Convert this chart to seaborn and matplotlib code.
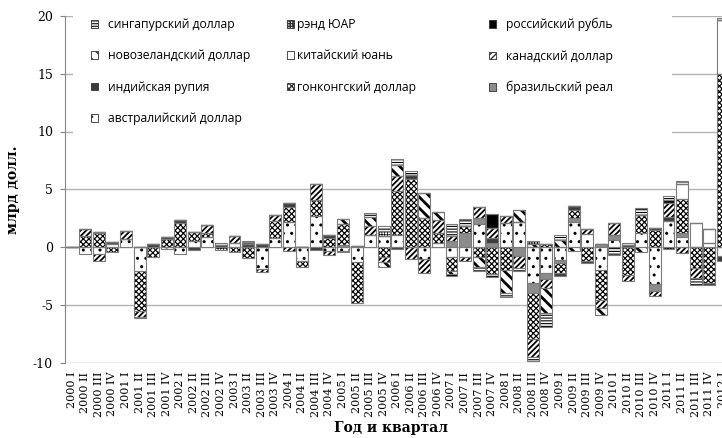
import numpy as np
import seaborn as sns
import matplotlib.pyplot as plt
import matplotlib.patches as mpatches

quarters = [f"{y} {q}" for y in range(2000, 2012) for q in ["I", "II", "III", "IV"]] + ["2012 I"]

# млрд долл., values (bottom-to-top stacking order)
aus = [0, -0.55, -0.55, 0.3, 0.7, -2.1, 0, -0.15, -0.55, 0.5,
       0.85, 0, 0.4, 0, -1.85, 0.83, 2.2, -1.2, 2.7, -0.3,
       -0.3, -1.25, 1.05, 1.0, 1.07, 0, -1.05, 0.4, -0.87, -0.85,
       2.0, 0, 2.13, 2.2, -3.1, -2.25, -1.1, 2.2, 1.15, -2.0,
       0.6, 0, 1.2, -3.2, 2.3, 0.9, 0, 0.35, -0.8]
brazil = [0, 0, 0, 0, 0, 0, 0, 0, 0, 0,
          0, 0, 0, 0, 0, 0, 0, 0, 0, 0,
          0.2, 0, 0, 0, 0, 0, 0, 0, 0.5, 1.2,
          0.5, 0.4, 0, -0.75, -0.87, -0.52, -0.3, 0.3, 0, 0.25,
          0.45, 0, 0, -0.55, 0, 0.3, 0, 0, 0]
hk = [0, 0.95, 1.2, -0.45, 0, -3.45, -0.85, 0.7, 2.1, 0.8,
      0.4, 0, -0.38, -0.95, 0, 1.45, 1.3, -0.55, 1.38, 0.8,
      1.8, -3.6, 0, -0.85, 3.75, 5.9, 2.5, 0.8, -1.15, 0.6,
      -0.87, -2.3, -1.96, 0, -4.0, 0.25, -0.8, 0.75, -1.2, -2.54,
      0, -2.4, 1.6, 1.45, 0, 2.95, -1.8, -3.1, 15.0]
india = [0, 0, 0.1, 0.12, 0, 0, 0.25, 0.15, 0.25, -0.25,
         0, 0.2, 0, 0.25, 0.25, 0, 0.3, 0.05, -0.2, 0.25,
         -0.15, 0.1, 0, 0, -0.17, 0.3, 0, 0, 0, 0,
         0, 0.4, 0, 0, 0, 0, -0.25, 0.3, -0.2, 0,
         0, 0.2, 0, 0.2, 0.35, 0, 0, -0.15, -0.35]
cad = [0, 0.6, -0.6, 0, 0.7, -0.45, 0, 0, 0, 0,
       0.65, 0, 0.57, 0, -0.3, 0.5, -0.33, 0, 1.38, -0.35,
       0, 0, 0.8, -0.4, 1.3, -1.05, -1.2, 1.15, 0.5, -0.3,
       1.0, 0.9, 0.58, -1.05, -1.5, -0.78, 0, 0, 0.4, -0.72,
       1.05, -0.5, 0, -0.43, 1.15, -0.52, -0.87, 0, 0]
china = [0, 0, 0, 0, 0, 0, 0, 0, 0, 0,
         0, 0, 0, 0, 0, 0, 0, 0, 0, 0,
         0, 0, 0, 0, 0, 0, 0, 0, 0, 0,
         0, 0, 0, 0, 0, 0, 0, 0, 0, 0,
         0, 0, 0, 0, 0, 1.3, 2.05, 1.22, 4.6]
nz = [0, 0, 0, 0, 0, 0, 0, 0, 0, 0,
      0, 0, 0, 0, 0, 0, 0, 0, 0, 0,
      0.4, 0, 0.8, -0.5, 1.0, 0, 2.16, 0.65, -0.3, 0,
      -0.8, 0, -2.0, 1.0, 0.3, -2.16, 0.6, -0.3, 0, -0.63,
      0, 0, -0.45, 0, 0, 0, 0, 0, 0]
ruble = [0, 0, 0, 0, 0, -0.15, 0, 0, 0, 0,
         0, 0, 0, 0, 0, 0, 0, 0, 0, 0,
         0, 0, 0, 0, 0, 0, 0, 0, -0.15, 0,
         0, 1.2, 0, 0, 0, 0, 0, 0, 0, 0,
         0, 0, 0, 0, 0.3, 0, 0, 0, 0]
rand = [0, 0, 0, 0, 0, 0, 0, 0, 0, 0,
        0, -0.25, 0, 0, 0, 0, 0, 0, 0, 0,
        0, 0, 0, 0.4, 0, 0, 0, 0, 0, 0,
        0, 0, 0, 0, 0.25, 0, 0, 0, 0, 0,
        0, 0, 0, 0, -0.15, 0, 0, 0, 0]
singapore = [0, 0, 0, 0, 0, 0, 0, 0, 0, 0,
             0, 0.2, 0, 0.3, 0, 0, 0, 0, 0, 0,
             0, 0, 0.3, 0.4, 0.5, 0.4, 0, 0, 1.0, 0.6,
             -0.43, -0.3, -0.37, -0.3, -0.37, -1.15, 0.45, 0, 0, 0,
             -0.7, 0.2, 0.55, 0, 0.35, 0.23, -0.58, 0, 0.2]

# name, values, face colour, hatch, hatch line width
series = [
    ("австралийский доллар", aus, "white", "..", 1.0),
    ("бразильский реал", brazil, "#8c8c8c", None, 1.0),
    ("гонконгский доллар", hk, "white", "xxxxxx", 0.85),
    ("индийская рупия", india, "#3c3c3c", None, 1.0),
    ("канадский доллар", cad, "white", "//////", 1.3),
    ("китайский юань", china, "white", None, 1.0),
    ("новозеландский доллар", nz, "white", "\\\\\\", 2.0),
    ("российский рубль", ruble, "black", None, 1.0),
    ("рэнд ЮАР", rand, "white", "++++++", 0.5),
    ("сингапурский доллар", singapore, "white", "------", 0.8),
]

plt.rcParams["font.family"] = ["DejaVu Serif"]
plt.rcParams["axes.unicode_minus"] = False

fig = plt.figure(figsize=(7.22, 4.38), dpi=100)
ax = fig.add_axes([65 / 722, 1 - 362.9 / 438, 664.5 / 722, 347.1 / 438])

pos = np.zeros(len(quarters))
neg = np.zeros(len(quarters))
for name, vals, col, hatch, hlw in series:
    v = np.asarray(vals, dtype=float)
    bottom = np.where(v >= 0, pos, neg)
    with plt.rc_context({"hatch.linewidth": hlw}):
        sns.barplot(x=quarters, y=v, bottom=bottom, ax=ax, color=col, hatch=hatch,
                    edgecolor="black", linewidth=0, width=0.88, saturation=1,
                    errorbar=None, zorder=2)
    sns.barplot(x=quarters, y=v, bottom=bottom, ax=ax, color="#7a7a7a", fill=False,
                linewidth=0.8, width=0.88, errorbar=None, zorder=3)
    pos += np.clip(v, 0, None)
    neg += np.clip(v, None, 0)

ax.set_xlim(-0.5, len(quarters) - 0.5)
ax.set_ylim(-10, 20)
ax.set_yticks([-10, -5, 0, 5, 10, 15, 20])
ax.grid(axis="y", color="#b3b3b3", linewidth=1)
ax.grid(axis="x", visible=False)
ax.set_axisbelow(True)
for s in ["top", "right", "bottom"]:
    ax.spines[s].set_visible(False)
ax.spines["left"].set_color("#868686")
ax.tick_params(axis="y", direction="out", length=3.6, color="#868686", pad=5, labelsize=9)
ax.tick_params(axis="x", length=0, pad=6.5, labelsize=8, rotation=90)
ax.set_xlabel("")
ax.set_ylabel("")

# white legend background hiding the upper gridlines
ax.add_patch(mpatches.Rectangle((73 / 722, 1 - 140 / 438), (672 - 73) / 722, 140 / 438,
                                transform=fig.transFigure, facecolor="white",
                                edgecolor="none", zorder=1))

handles = {}
for name, vals, col, hatch, hlw in series:
    with plt.rc_context({"hatch.linewidth": min(hlw, 1.0)}):
        handles[name] = mpatches.Patch(facecolor=col, hatch=hatch, edgecolor="#303030",
                                       linewidth=0.6)
columns = [
    (["сингапурский доллар", "новозеландский доллар", "индийская рупия", "австралийский доллар"], 91, 0.8),
    (["рэнд ЮАР", "китайский юань", "гонконгский доллар"], 287, 0.25),
    (["российский рубль", "канадский доллар", "бразильский реал"], 489, 0.8),
]
for names, x0, pad in columns:
    fig.legend(handles=[handles[n] for n in names], labels=names, loc="upper left",
               bbox_to_anchor=(x0 / 722, 1 - 18 / 438), bbox_transform=fig.transFigure,
               frameon=False, borderpad=0, borderaxespad=0, handlelength=0.6,
               handleheight=0.6, handletextpad=pad, labelspacing=1.52,
               prop={"family": ["Open Sans", "DejaVu Sans"], "size": 8.7})

fig.text(13 / 722, 1 - 190 / 438, "млрд долл.", rotation=90, ha="center", va="center",
         fontsize=10, fontweight="bold")
fig.text(391 / 722, 1 - 428 / 438, "Год и квартал", ha="center", va="center",
         fontsize=10, fontweight="bold")

fig.savefig("out.png", dpi=100)
